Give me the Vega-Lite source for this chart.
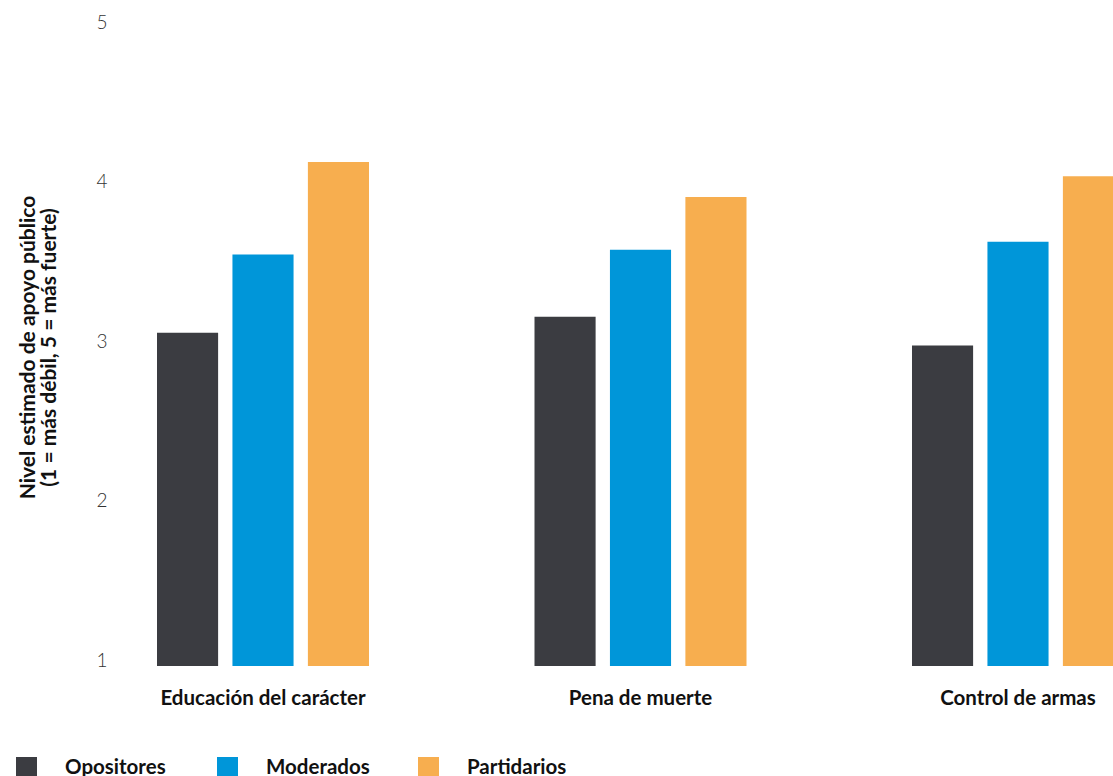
{
  "$schema": "https://vega.github.io/schema/vega-lite/v6.json",
  "autosize": {"type": "none"},
  "padding": {"left": 120, "top": 28, "right": 0, "bottom": 110},
  "width": 993,
  "height": 638,
  "background": "white",
  "config": {"view": {"stroke": null}, "font": "Lato"},
  "data": {
    "values": [
      {"tema": "Educación del carácter", "grupo": "Opositores", "valor": 3.09},
      {"tema": "Educación del carácter", "grupo": "Moderados", "valor": 3.58},
      {"tema": "Educación del carácter", "grupo": "Partidarios", "valor": 4.16},
      {"tema": "Pena de muerte", "grupo": "Opositores", "valor": 3.19},
      {"tema": "Pena de muerte", "grupo": "Moderados", "valor": 3.61},
      {"tema": "Pena de muerte", "grupo": "Partidarios", "valor": 3.94},
      {"tema": "Control de armas", "grupo": "Opositores", "valor": 3.01},
      {"tema": "Control de armas", "grupo": "Moderados", "valor": 3.66},
      {"tema": "Control de armas", "grupo": "Partidarios", "valor": 4.07}
    ]
  },
  "mark": {"type": "bar", "clip": true},
  "encoding": {
    "x": {
      "field": "tema",
      "type": "nominal",
      "sort": ["Educación del carácter", "Pena de muerte", "Control de armas"],
      "scale": {"range": [37, 1004], "paddingInner": 0.4384, "paddingOuter": 0},
      "axis": {
        "title": null,
        "labelAngle": 0,
        "domain": false,
        "ticks": false,
        "labelFont": "Lato",
        "labelFontWeight": "bold",
        "labelFontSize": 20.5,
        "labelColor": "#111111",
        "labelPadding": 22,
        "labelBaseline": "top",
        "labelLimit": 400
      }
    },
    "xOffset": {
      "field": "grupo",
      "type": "nominal",
      "sort": ["Opositores", "Moderados", "Partidarios"],
      "scale": {"paddingInner": 0.19, "paddingOuter": 0}
    },
    "y": {
      "field": "valor",
      "type": "quantitative",
      "scale": {"domain": [1, 5], "nice": false, "zero": false},
      "axis": {
        "title": ["Nivel estimado de apoyo público", "(1 = más débil, 5 = más fuerte)"],
        "titleFont": "Lato",
        "titleFontWeight": "bold",
        "titleFontSize": 21,
        "titleColor": "#111111",
        "titleLineHeight": 21,
        "titlePadding": 36,
        "values": [1, 2, 3, 4, 5],
        "domain": false,
        "ticks": false,
        "grid": false,
        "labelFont": "Lato",
        "labelFontWeight": 300,
        "labelFontSize": 19,
        "labelColor": "#333333",
        "labelBaseline": "alphabetic",
        "labelPadding": 13
      }
    },
    "color": {
      "field": "grupo",
      "type": "nominal",
      "sort": ["Opositores", "Moderados", "Partidarios"],
      "scale": {"range": ["#3b3c41", "#0096d9", "#f7ae4f"]},
      "legend": {
        "title": null,
        "orient": "none",
        "legendX": -104,
        "legendY": 729,
        "direction": "horizontal",
        "columns": 3,
        "gridAlign": "all",
        "symbolType": "square",
        "symbolSize": 441,
        "symbolStrokeWidth": 0,
        "symbolOpacity": 1,
        "labelOffset": 28,
        "labelFont": "Lato",
        "labelFontWeight": "bold",
        "labelFontSize": 20.5,
        "labelColor": "#111111",
        "columnPadding": 48
      }
    }
  }
}
